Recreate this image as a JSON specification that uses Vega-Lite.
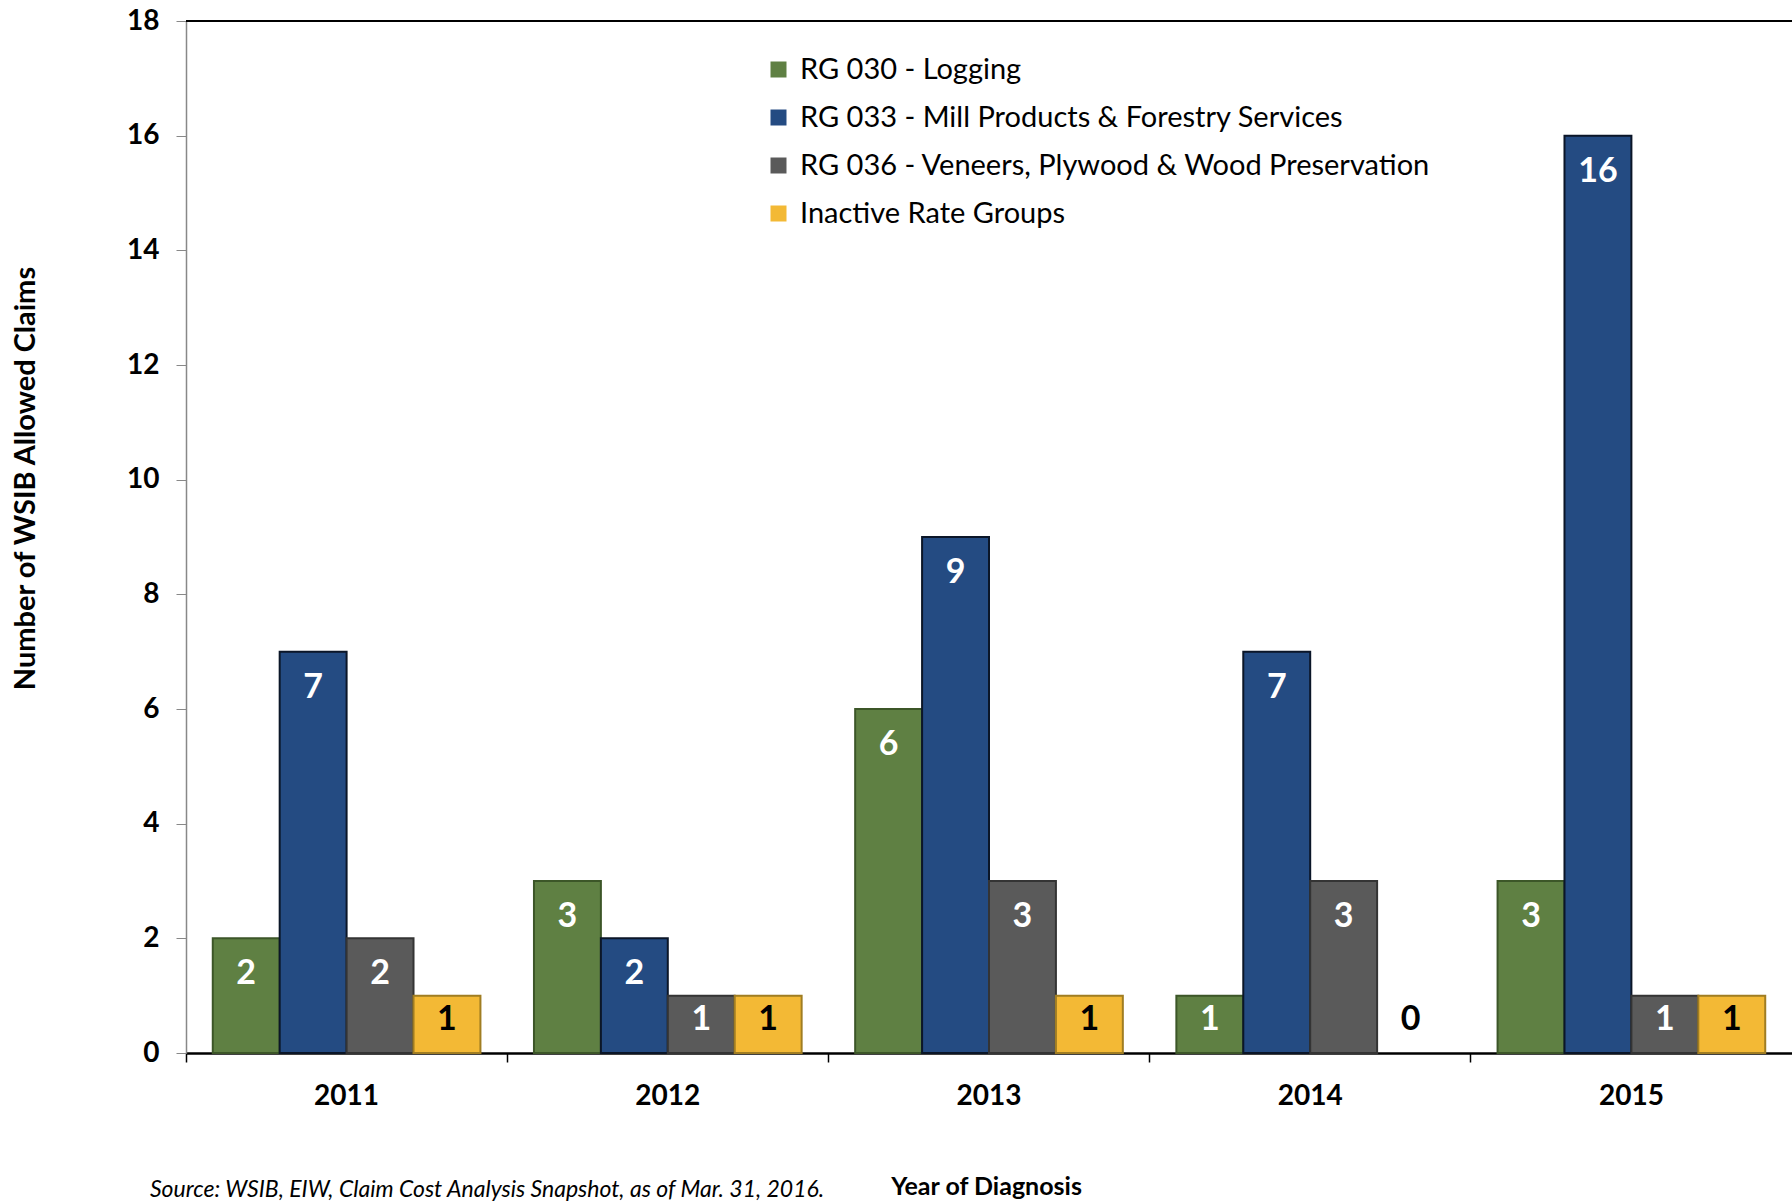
{
  "$schema": "https://vega.github.io/schema/vega-lite/v6.json",
  "width": 1606,
  "height": 1032,
  "autosize": {"type": "none"},
  "padding": {"left": 186, "top": 21, "right": 0, "bottom": 148},
  "background": "white",
  "config": {"font": "Lato", "view": {"stroke": null}},
  "title": {
    "text": "Source: WSIB, EIW, Claim Cost Analysis Snapshot, as of Mar. 31, 2016.",
    "orient": "bottom",
    "anchor": "start",
    "frame": "group",
    "fontSize": 23,
    "fontStyle": "italic",
    "fontWeight": "normal",
    "color": "black",
    "dx": -36,
    "offset": -20
  },
  "data": {
    "values": [
      {"year": "2011", "group": "RG 030 - Logging", "claims": 2},
      {"year": "2011", "group": "RG 033 - Mill Products & Forestry Services", "claims": 7},
      {"year": "2011", "group": "RG 036 - Veneers, Plywood & Wood Preservation", "claims": 2},
      {"year": "2011", "group": "Inactive Rate Groups", "claims": 1},
      {"year": "2012", "group": "RG 030 - Logging", "claims": 3},
      {"year": "2012", "group": "RG 033 - Mill Products & Forestry Services", "claims": 2},
      {"year": "2012", "group": "RG 036 - Veneers, Plywood & Wood Preservation", "claims": 1},
      {"year": "2012", "group": "Inactive Rate Groups", "claims": 1},
      {"year": "2013", "group": "RG 030 - Logging", "claims": 6},
      {"year": "2013", "group": "RG 033 - Mill Products & Forestry Services", "claims": 9},
      {"year": "2013", "group": "RG 036 - Veneers, Plywood & Wood Preservation", "claims": 3},
      {"year": "2013", "group": "Inactive Rate Groups", "claims": 1},
      {"year": "2014", "group": "RG 030 - Logging", "claims": 1},
      {"year": "2014", "group": "RG 033 - Mill Products & Forestry Services", "claims": 7},
      {"year": "2014", "group": "RG 036 - Veneers, Plywood & Wood Preservation", "claims": 3},
      {"year": "2014", "group": "Inactive Rate Groups", "claims": 0},
      {"year": "2015", "group": "RG 030 - Logging", "claims": 3},
      {"year": "2015", "group": "RG 033 - Mill Products & Forestry Services", "claims": 16},
      {"year": "2015", "group": "RG 036 - Veneers, Plywood & Wood Preservation", "claims": 1},
      {"year": "2015", "group": "Inactive Rate Groups", "claims": 1}
    ]
  },
  "encoding": {
    "x": {
      "field": "year",
      "type": "nominal",
      "scale": {"paddingInner": 0, "paddingOuter": 0},
      "axis": {
        "bandPosition": 0,
        "labelAngle": 0,
        "labelFontSize": 28,
        "labelFontWeight": "bold",
        "labelColor": "black",
        "labelPadding": 20,
        "tickSize": 9,
        "tickColor": "black",
        "tickWidth": 1.5,
        "domainColor": "black",
        "domainWidth": 2.5,
        "title": "Year of Diagnosis",
        "titleFontSize": 25,
        "titleFontWeight": "bold",
        "titleColor": "black",
        "titleX": 800,
        "titleY": 133,
        "titleBaseline": "middle"
      }
    },
    "xOffset": {
      "field": "group",
      "type": "nominal",
      "sort": ["RG 030 - Logging", "RG 033 - Mill Products & Forestry Services", "RG 036 - Veneers, Plywood & Wood Preservation", "Inactive Rate Groups"],
      "scale": {"paddingInner": 0, "paddingOuter": 0.4}
    }
  },
  "layer": [
    {
      "mark": {"type": "bar", "strokeWidth": 2},
      "encoding": {
        "y": {
          "field": "claims",
          "type": "quantitative",
          "scale": {"domain": [0, 18], "nice": false},
          "axis": {
            "values": [0, 2, 4, 6, 8, 10, 12, 14, 16, 18],
            "format": "d",
            "grid": false,
            "labelFontSize": 28,
            "labelFontWeight": "bold",
            "labelColor": "black",
            "labelPadding": 17,
            "tickSize": 10,
            "tickColor": "#888888",
            "domainColor": "#888888",
            "domainWidth": 1.5,
            "title": "Number of WSIB Allowed Claims",
            "titleFontSize": 29,
            "titleFontWeight": "bold",
            "titleColor": "black",
            "titleX": -161,
            "titleY": 457,
            "titleBaseline": "middle"
          }
        },
        "color": {
          "field": "group",
          "type": "nominal",
          "sort": ["RG 030 - Logging", "RG 033 - Mill Products & Forestry Services", "RG 036 - Veneers, Plywood & Wood Preservation", "Inactive Rate Groups"],
          "scale": {
            "domain": ["RG 030 - Logging", "RG 033 - Mill Products & Forestry Services", "RG 036 - Veneers, Plywood & Wood Preservation", "Inactive Rate Groups"],
            "range": ["#5f8043", "#244b82", "#5a5a5a", "#f3b935"]
          },
          "legend": {
            "orient": "none",
            "legendX": 578,
            "legendY": 34,
            "title": null,
            "symbolType": "square",
            "symbolSize": 256,
            "symbolStrokeWidth": 0,
            "labelFontSize": 29,
            "labelColor": "black",
            "labelLimit": 1000,
            "labelOffset": 7,
            "rowPadding": 18
          }
        },
        "stroke": {
          "condition": {"test": "datum.claims === 0", "value": "transparent"},
          "field": "group",
          "type": "nominal",
          "scale": {
            "domain": ["RG 030 - Logging", "RG 033 - Mill Products & Forestry Services", "RG 036 - Veneers, Plywood & Wood Preservation", "Inactive Rate Groups"],
            "range": ["#3c5628", "#0b1628", "#343434", "#a07d22"]
          },
          "legend": null
        }
      }
    },
    {
      "transform": [{"filter": "datum.claims >= 2"}],
      "mark": {"type": "text", "dy": 36, "fontSize": 34, "fontWeight": "bold", "baseline": "middle"},
      "encoding": {
        "y": {"field": "claims", "type": "quantitative"},
        "text": {"field": "claims", "type": "quantitative"},
        "color": {"condition": {"test": "datum.group === 'Inactive Rate Groups'", "value": "black"}, "value": "white"}
      }
    },
    {
      "transform": [{"filter": "datum.claims < 2"}],
      "mark": {"type": "text", "dy": -33, "fontSize": 34, "fontWeight": "bold", "baseline": "middle"},
      "encoding": {
        "y": {"datum": 0},
        "text": {"field": "claims", "type": "quantitative"},
        "color": {"condition": {"test": "datum.group === 'Inactive Rate Groups'", "value": "black"}, "value": "white"}
      }
    },
    {
      "mark": {"type": "rule", "color": "black", "strokeWidth": 2},
      "encoding": {"y": {"datum": 18}, "x": {"value": 0}, "x2": {"value": 1606}, "xOffset": null}
    }
  ]
}
